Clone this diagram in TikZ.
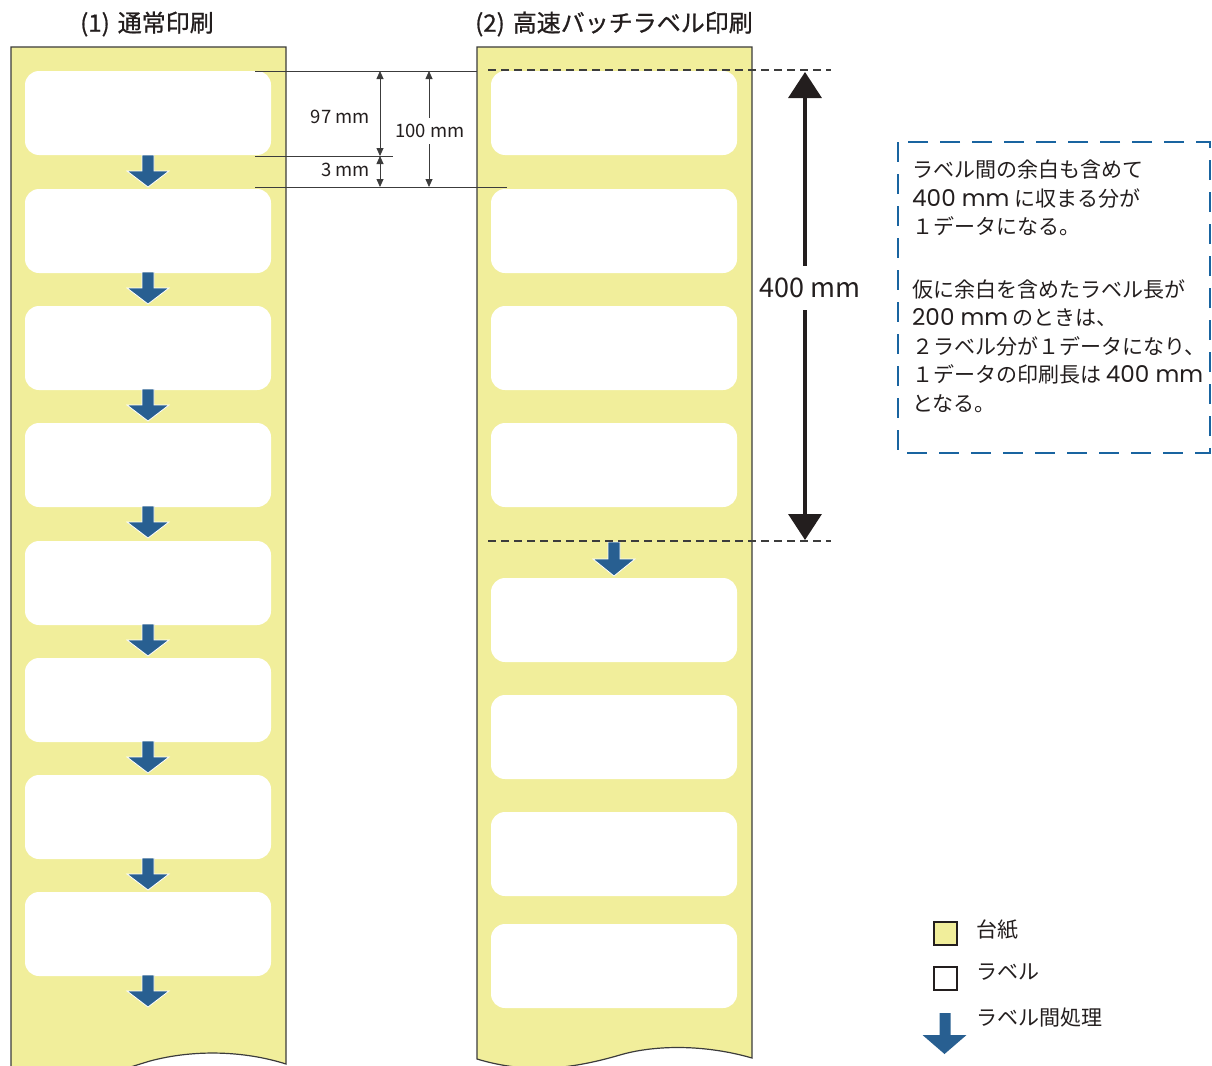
\documentclass[tikz,border=0pt]{standalone}
\usepackage{fontspec}
\setmainfont{Noto Sans CJK JP}
\newfontfamily\latfont[Scale=1.1]{Poppins}
\newcommand\lt[1]{{\latfont #1}}
\usetikzlibrary{arrows.meta}
\definecolor{paperY}{RGB}{241,238,155}
\definecolor{edge}{RGB}{60,60,60}
\definecolor{procblue}{RGB}{40,95,145}
\definecolor{boxblue}{RGB}{25,100,160}
\definecolor{ink}{RGB}{35,30,30}
\tikzset{
  paper/.style={fill=paperY, draw=edge, line width=1.2pt},
  labelbox/.style={fill=white, rounded corners=14pt},
  dimline/.style={draw=edge, line width=0.8pt},
  dimarrow/.style={draw=edge, line width=0.8pt, {Triangle[length=8pt,width=7pt]}-{Triangle[length=8pt,width=7pt]}},
  cutline/.style={draw=edge, line width=1.3pt, dash pattern=on 8pt off 5pt},
  txt/.style={text=ink, inner sep=0pt},
  title/.style={txt, font=\fontsize{24}{24}\selectfont\addfontfeatures{FakeBold=0.8}},
  procarrow/.style={fill=procblue, draw=white, line width=0.8pt},
}
\newcommand\procarr[4]{% x, ytop, shaft length, head length
  \path[procarrow] (#1-6,#2) -- (#1+6,#2) -- (#1+6,#2+#3) -- (#1+21,#2+#3) -- (#1,#2+#3+#4) -- (#1-21,#2+#3) -- (#1-6,#2+#3) -- cycle;}
\begin{document}
\begin{tikzpicture}[x=1pt,y=-1pt]
\useasboundingbox (0,0) rectangle (1212,1065);
\clip (0,0) rectangle (1212,1065);

% titles
\node[title] (t1) at (147,24) {(1)\,\,通常印刷};
\node[title] (t2) at (614,24) {(2)\,\,高速バッチラベル印刷};

% strips
\path[paper] (11,1080) -- (11,47) -- (286,47) -- (286,1064)
  .. controls (245,1051) and (195,1049) .. (150,1061)
  .. controls (120,1070) and (100,1078) .. (60,1080) -- cycle;
\path[paper] (477,1059) -- (477,47) -- (752,47) -- (752,1058)
  .. controls (700,1043) and (650,1046) .. (620,1055)
  .. controls (575,1068) and (530,1075) .. (477,1059) -- cycle;

% labels left
\foreach \y in {71,189,306,423,541,658,775,892}{
  \path[labelbox] (25,\y) rectangle (271,\y+84);
}
% labels right
\foreach \y in {71,189,306,423,578,695,812,924}{
  \path[labelbox] (491,\y) rectangle (737,\y+84);
}
% process arrows left
\foreach \y in {155,272,389,506,624,741,858,975}{
  \procarr{148}{\y}{16}{16}
}
\procarr{614}{542}{17}{17}

% dimension lines
\coordinate (d1a) at (255,71);
\coordinate (d1b) at (477,71);
\coordinate (d2a) at (255,156);
\coordinate (d2b) at (393,156);
\coordinate (d3a) at (255,187);
\coordinate (d3b) at (507,187);
\draw[dimline] (d1a) -- (d1b);
\draw[dimline] (d2a) -- (d2b);
\draw[dimline] (d3a) -- (d3b);
\coordinate (a97t) at (380,71);
\coordinate (a97b) at (380,156);
\coordinate (a3b) at (380,187);
\draw[dimarrow] (a97t) -- (a97b);
\draw[dimarrow] (a97b) -- (a3b);
\coordinate (a100t) at (429,71);
\coordinate (a100b) at (429,187);
\draw[dimarrow] (a100t) -- (a100b);
\node[txt, anchor=east, font=\fontsize{18.5}{18.5}\selectfont] (l97) at (370,117) {97 mm};
\node[txt, anchor=east, font=\fontsize{18.5}{18.5}\selectfont] (l3) at (370,170) {3 mm};
\node[txt, fill=white, inner ysep=6pt, inner xsep=1pt, font=\fontsize{18.5}{18.5}\selectfont] (l100) at (430,131) {100 mm};

% cut lines and 400mm arrow
\coordinate (c1a) at (488,70);
\coordinate (c1b) at (831,70);
\coordinate (c2a) at (488,541);
\coordinate (c2b) at (831,541);
\draw[cutline] (c1a) -- (c1b);
\draw[cutline] (c2a) -- (c2b);
\coordinate (bt) at (805,72);
\coordinate (bb) at (805,540);
\draw[draw=ink, line width=3.5pt, {Triangle[length=26pt,width=33pt]}-{Triangle[length=26pt,width=33pt]}] (bt) -- (bb);
\node[txt, fill=white, inner ysep=12pt, inner xsep=2pt, font=\fontsize{27}{27}\selectfont] (l400) at (810,288) {400 mm};

% dashed note box
\draw[draw=boxblue, line width=2.6pt, dash pattern=on 20pt off 12pt] (898,142) rectangle (1210,453);
\node[txt, anchor=north west, align=left, font=\fontsize{21}{28.5}\selectfont] (note) at (912,160)
 {ラベル間の余白も含めて\\\lt{400 mm} に収まる分が\\１データになる。\\[34pt]
  仮に余白を含めたラベル長が\\\lt{200 mm} のときは、\\２ラベル分が１データになり、\\１データの印刷長は \lt{400 mm}\\となる。};

% legend
\path[fill=paperY, draw=ink, line width=2pt] (934,922) rectangle (957,945);
\path[fill=white, draw=ink, line width=2pt] (934,967) rectangle (957,990);
\path[fill=procblue] (939.5,1013) -- (950.5,1013) -- (950.5,1035) -- (966.5,1035) -- (944.5,1054) -- (922.5,1035) -- (939.5,1035) -- cycle;
\node[txt, anchor=west, font=\fontsize{21}{21}\selectfont] (lg1) at (976,930) {台紙};
\node[txt, anchor=west, font=\fontsize{21}{21}\selectfont] (lg2) at (976,972) {ラベル};
\node[txt, anchor=west, font=\fontsize{21}{21}\selectfont] (lg3) at (976,1018) {ラベル間処理};
\end{tikzpicture}
\end{document}
